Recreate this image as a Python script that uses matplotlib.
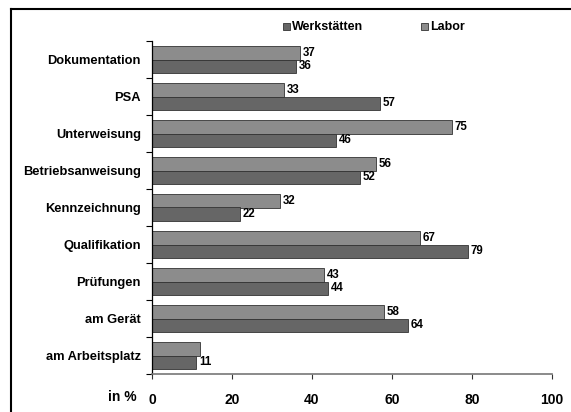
import matplotlib
matplotlib.use("Agg")
import matplotlib.pyplot as plt
from matplotlib.lines import Line2D
from matplotlib.patches import Rectangle
import numpy as np

plt.rcParams['font.family'] = ['Liberation Sans', 'DejaVu Sans']
plt.rcParams['font.weight'] = 'bold'

categories = ["Dokumentation", "PSA", "Unterweisung", "Betriebsanweisung",
              "Kennzeichnung", "Qualifikation", "Prüfungen", "am Gerät",
              "am Arbeitsplatz"]
werkstaetten = [36, 57, 46, 52, 22, 79, 44, 64, 11]
labor = [37, 33, 75, 56, 32, 67, 43, 58, 12]
labor_labels = ["37", "33", "75", "56", "32", "67", "43", "58", ""]
werk_labels = ["36", "57", "46", "52", "22", "79", "44", "64", "11"]
xticks = [0, 20, 40, 60, 80, 100]

c_werk = "#666666"
c_labor = "#8c8c8c"

W, H = 571, 412
fig = plt.figure(figsize=(W / 100, H / 100), dpi=100)
ax = fig.add_axes([152 / W, 1 - 374 / H, 400 / W, 333 / H])

n = len(categories)
y = np.arange(n)
h = 0.376
ax.barh(y - h / 2, labor, height=h, color=c_labor, edgecolor="#333333", linewidth=0.6)
ax.barh(y + h / 2, werkstaetten, height=h, color=c_werk, edgecolor="#333333", linewidth=0.6)

for i in range(n):
    if labor_labels[i]:
        ax.text(labor[i] + 0.7, y[i] - h / 2, labor_labels[i], va="center", ha="left",
                fontsize=8.3, fontweight="bold")
    if werk_labels[i]:
        ax.text(werkstaetten[i] + 0.7, y[i] + h / 2, werk_labels[i], va="center", ha="left",
                fontsize=8.3, fontweight="bold")

ax.set_ylim(n - 0.5, -0.5)
ax.set_xlim(0, 100)
ax.set_yticks(y)
ax.set_yticklabels(categories, fontsize=9.3, fontweight="bold")
ax.tick_params(axis="y", length=0, pad=8)
ax.set_yticks(np.arange(-0.5, n, 1), minor=True)
ax.tick_params(axis="y", which="minor", length=4, width=0.8, color="black")
ax.set_xticks(xticks)
ax.set_xticklabels([str(v) for v in xticks], fontsize=10, fontweight="bold")
ax.tick_params(axis="x", length=3.5, width=0.8, color="#333333", pad=10)

for s in ["top", "right"]:
    ax.spines[s].set_visible(False)
ax.spines["left"].set_color("black")
ax.spines["left"].set_linewidth(0.9)
ax.spines["bottom"].set_color("#777777")
ax.spines["bottom"].set_linewidth(1.2)

fig.text(108 / W, 1 - 397 / H, "in %", fontsize=10, fontweight="bold",
         ha="left", va="center")

# legend
def leg(xp, label, color):
    fig.add_artist(Rectangle((xp / W, 1 - 30 / H), 7 / W, 7 / H,
                             transform=fig.transFigure, facecolor=color,
                             edgecolor="#333333", linewidth=0.6))
    fig.text((xp + 9) / W, 1 - 26.5 / H, label, fontsize=9, fontweight="bold",
             ha="left", va="center")

leg(283, "Werkstätten", c_werk)
leg(421, "Labor", c_labor)

# frame lines
fig.add_artist(Line2D([11 / W, 1.0], [1 - 9 / H, 1 - 9 / H],
                      transform=fig.transFigure, color="black", linewidth=1.5))
fig.add_artist(Line2D([11 / W, 11 / W], [0, 1 - 9 / H],
                      transform=fig.transFigure, color="black", linewidth=1.5))

fig.savefig("out.png", dpi=100)
